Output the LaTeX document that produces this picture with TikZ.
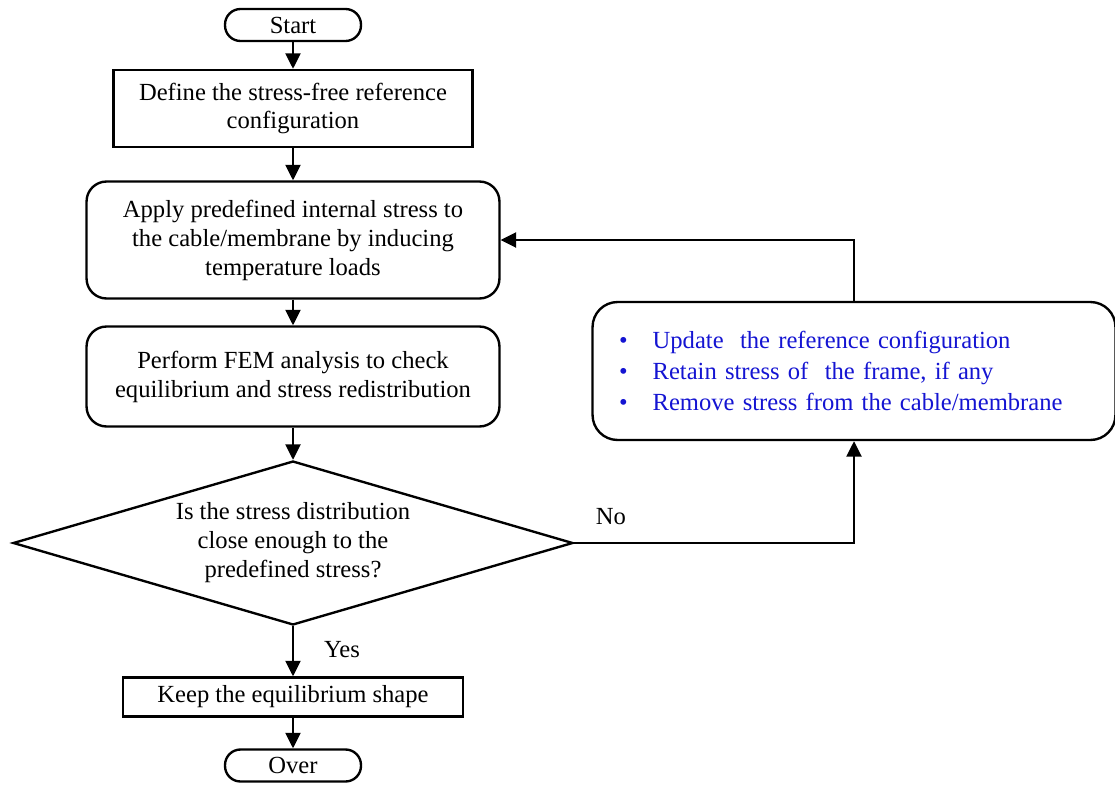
\documentclass[tikz,border=0pt]{standalone}
\usepackage{fontspec}
\setmainfont{Liberation Serif}
\usetikzlibrary{shapes.geometric,arrows.meta}
\definecolor{updblue}{RGB}{20,20,210}

\begin{document}
\begin{tikzpicture}[x=0.02cm,y=-0.02cm,line width=1.35pt,
    font=\fontsize{14}{16.5}\selectfont,
    term/.style={draw,rectangle,rounded corners=3.1mm,minimum width=2.72cm,minimum height=0.64cm,inner sep=0pt},
    proc/.style={draw,rectangle,align=center,inner sep=0pt},
    rproc/.style={proc,rounded corners=4mm},
    arr/.style={-{Triangle[length=3.1mm,width=3mm]}}]
  \useasboundingbox (0,0) rectangle (1115,784);
  \node[term] (start) at (293,25) {Start};
  \node[proc,minimum width=7.18cm,minimum height=1.54cm] (define) at (293,108.5) {Define the stress-free reference\\configuration};
  \node[rproc,minimum width=8.26cm,minimum height=2.34cm] (apply) at (293,240) {Apply predefined internal stress to\\the cable/membrane by inducing\\temperature loads};
  \node[rproc,minimum width=8.26cm,minimum height=2.0cm] (perform) at (293,376.5) {Perform FEM analysis to check\\equilibrium and stress redistribution};
  \node[draw,diamond,aspect=3.41,minimum width=11.2cm,minimum height=3.28cm,inner sep=0pt,align=center] (check) at (293,543) {Is the stress distribution\\close enough to the\\predefined stress?};
  \node[proc,minimum width=6.8cm,minimum height=0.78cm] (keep) at (293,697) {Keep the equilibrium shape};
  \node[term] (over) at (293,765.5) {Over};
  \node[draw,rounded corners=5mm,minimum width=10.46cm,minimum height=2.76cm,inner xsep=0.48cm,
    text width=9.4cm,align=left,text=updblue,font=\fontsize{14}{17.6}\selectfont] (update) at (854,371)
    {\textbullet\hspace{0.5cm}Update\ \ the reference configuration\\
     \textbullet\hspace{0.5cm}Retain stress of\ \ the frame, if any\\
     \textbullet\hspace{0.5cm}Remove stress from the cable/membrane};
  \node (no) at (611,517) {No};
  \node (yes) at (342,650) {Yes};
  % main flow
  \draw[arr] (start) -- (define);
  \draw[arr] (define) -- (apply);
  \draw[arr] (apply) -- (perform);
  \draw[arr] (perform) -- (check);
  \draw[arr] (check) -- (keep);
  \draw[arr] (keep) -- (over);
  % loop back
  \draw[arr] (check.east) -| (update.south);
  \draw[arr] (update.north) |- (apply.east);
\end{tikzpicture}
\end{document}
